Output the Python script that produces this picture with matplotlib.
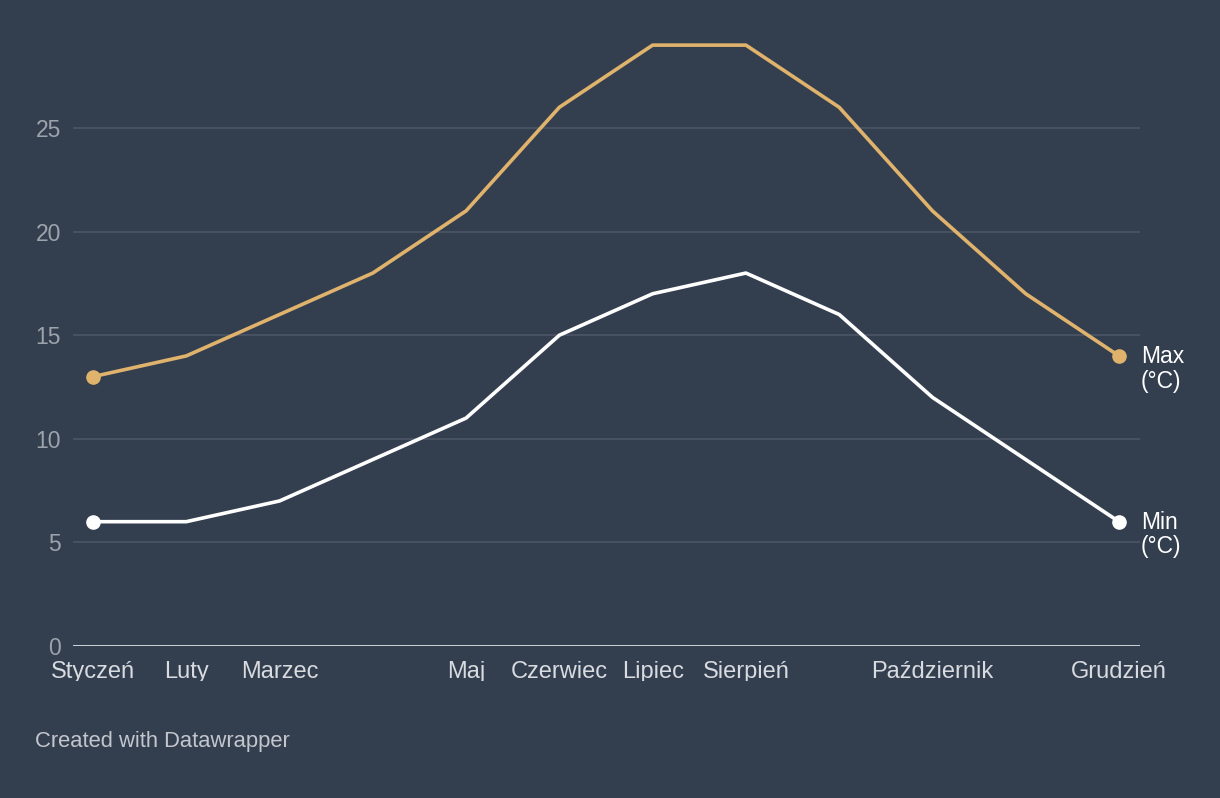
import matplotlib
matplotlib.use("Agg")
import matplotlib.pyplot as plt
from matplotlib.transforms import Bbox, TransformedBbox, ScaledTranslation

plt.rcParams['font.family'] = ['Liberation Sans', 'DejaVu Sans']

months = ["Styczeń", "Luty", "Marzec", "Kwiecień", "Maj", "Czerwiec", "Lipiec",
          "Sierpień", "Wrzesień", "Październik", "Listopad", "Grudzień"]
shown_months = ["Styczeń", "Luty", "Marzec", "Maj", "Czerwiec", "Lipiec",
                "Sierpień", "Październik", "Grudzień"]
temp_max = [13, 14, 16, 18, 21, 26, 29, 29, 26, 21, 17, 14]
temp_min = [6, 6, 7, 9, 11, 15, 17, 18, 16, 12, 9, 6]
y_ticks = [0, 5, 10, 15, 20, 25]

BG = "#333e4f"
GRID = "#4a5465"
ORANGE = "#e0b36d"
W, H = 1220, 798

fig = plt.figure(figsize=(W / 100, H / 100), dpi=100, facecolor=BG)
# axes: x 73..1140 px, y 646 (zero) .. 40 px
ax = fig.add_axes([73 / W, 1 - 646 / H, (1140 - 73) / W, (646 - 40) / H])
ax.set_facecolor(BG)
x = list(range(len(months)))
step = (1119 - 93) / 11
ax.set_xlim(-20 / step, 11 + 21 / step)
ax.set_ylim(0, (646 - 40) / 20.72)

for s in ax.spines.values():
    s.set_visible(False)
ax.set_xticks([])
ax.set_yticks(y_ticks)
ax.tick_params(axis='y', length=0, pad=8.5, labelsize=16.5, labelcolor="#9da3ac")
for t in y_ticks[1:]:
    ax.axhline(t, color=GRID, lw=1.3, zorder=1)
ax.axhline(0, color="white", lw=1.8, zorder=2)

ax.plot(x, temp_max, color=ORANGE, lw=2.6, zorder=3, solid_capstyle='round')
ax.plot(x, temp_min, color="white", lw=2.6, zorder=3, solid_capstyle='round')
ax.plot([x[0], x[-1]], [temp_max[0], temp_max[-1]], 'o', color=ORANGE, ms=9.5, zorder=4)
ax.plot([x[0], x[-1]], [temp_min[0], temp_min[-1]], 'o', color="white", ms=9.5, zorder=4)

# series labels at right end
for vals, name in [(temp_max, "Max"), (temp_min, "Min")]:
    ax.annotate(f"{name}\n(°C)", (x[-1], vals[-1]), xytext=(15.8, 8),
                textcoords="offset points", ha="left", va="top",
                color="white", fontsize=16.5, linespacing=1.1, annotation_clip=False)

# x labels, clipped at the bottom like the original
clip = TransformedBbox(Bbox([[0, 1 - 681 / H], [1, 1]]), fig.transFigure)
label_offset = ScaledTranslation(0, -15 / 100, fig.dpi_scale_trans)
for m in shown_months:
    i = months.index(m)
    t = ax.text(i, 0, m, transform=ax.transData + label_offset, ha="center", va="top",
                color="#d8dbe0", fontsize=17)
    t.set_clip_on(True)
    t.set_clip_box(clip)

fig.text(35 / W, 1 - 741 / H, "Created with Datawrapper", ha="left", va="center",
         color="#c3c7cd", fontsize=15.8)

fig.savefig("out.png", dpi=100, facecolor=BG)
